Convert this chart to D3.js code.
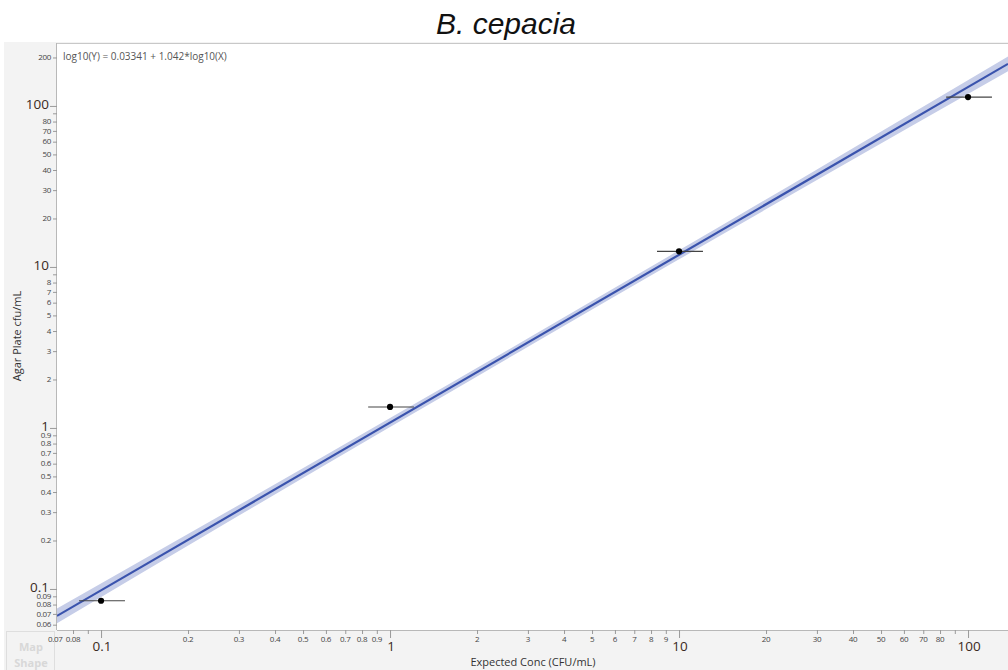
<!DOCTYPE html>
<html>
<head>
<meta charset="utf-8">
<script src="https://cdn.jsdelivr.net/npm/d3@7"></script>
<style>
  html, body { margin: 0; padding: 0; background: #ffffff; }
  svg { display: block; font-family: "Open Sans", "Noto Sans", "DejaVu Sans", sans-serif; }
</style>
</head>
<body>
<svg id="chart" width="1008" height="670"></svg>
<script>
// Observed points: expected concentration vs. agar plate count
const expected = [0.1, 1, 10, 100];
const agarCount = [0.0845, 1.35, 12.5, 113.5];
const expectedLow = [0.0839, 0.84, 8.39, 84.0];
const expectedHigh = [0.121, 1.21, 12.1, 121];

// Fitted power-law model: log10(Y) = a + b*log10(X)
const fitIntercept = 0.03341;
const fitSlope = 1.042;
const fitLabel = "log10(Y) = 0.03341 + 1.042*log10(X)";

// Confidence band half-width (log10 units) along X
const bandX = [0.0704, 0.3, 1, 3.16, 10, 30, 137.5];
const bandHalf = [0.046, 0.033, 0.028, 0.026, 0.028, 0.033, 0.046];

// Axis tick values and which ones carry labels
const xMajor = [0.1, 1, 10, 100];
const xMinor = [0.08, 0.09, 0.2, 0.3, 0.4, 0.5, 0.6, 0.7, 0.8, 0.9,
                2, 3, 4, 5, 6, 7, 8, 9, 20, 30, 40, 50, 60, 70, 80, 90];
const xMinorLabels = [0.07, 0.08, 0.2, 0.3, 0.4, 0.5, 0.6, 0.7, 0.8, 0.9,
                      2, 3, 4, 5, 6, 7, 8, 9, 20, 30, 40, 50, 60, 70, 80];
const yMajor = [0.1, 1, 10, 100];
const yMinor = [0.06, 0.07, 0.08, 0.09, 0.2, 0.3, 0.4, 0.5, 0.6, 0.7, 0.8, 0.9,
                2, 3, 4, 5, 6, 7, 8, 9, 20, 30, 40, 50, 60, 70, 80, 90, 200];
const yMinorLabels = [0.06, 0.07, 0.08, 0.09, 0.2, 0.3, 0.4, 0.5, 0.6, 0.7, 0.8, 0.9,
                      2, 3, 4, 5, 6, 7, 8, 20, 30, 40, 50, 60, 70, 80, 200];

const svg = d3.select("#chart");
const W = 1008, H = 670;
const plot = { left: 57, top: 43, right: 1008, bottom: 630 };

const x = d3.scaleLog().domain([0.0704, 137.5]).range([plot.left, plot.right]);
const y = d3.scaleLog().domain([0.0556, 246]).range([plot.bottom, plot.top]);

const fmt = v => String(+v.toPrecision(3));

// Panel backgrounds
svg.append("rect").attr("x", 0).attr("y", 0).attr("width", W).attr("height", H).attr("fill", "#ffffff");
svg.append("rect").attr("x", 4).attr("y", plot.top - 1).attr("width", W - 4).attr("height", H - plot.top + 1)
  .attr("fill", "#f3f3f3");
svg.append("rect").attr("x", plot.left).attr("y", plot.top)
  .attr("width", plot.right - plot.left).attr("height", plot.bottom - plot.top).attr("fill", "#ffffff");

// Inactive "Map Shape" drop zone (sits beneath the axis labels)
svg.append("rect").attr("x", 6.5).attr("y", 631.5).attr("width", 48).attr("height", 40)
  .attr("fill", "#f3f3f3").attr("stroke", "#dedede");
svg.append("text").attr("x", 31).attr("y", 651).attr("text-anchor", "middle")
  .attr("font-size", 11).attr("font-weight", "bold").attr("fill", "#d8d8d8").text("Map");
svg.append("text").attr("x", 31).attr("y", 667).attr("text-anchor", "middle")
  .attr("font-size", 11).attr("font-weight", "bold").attr("fill", "#d8d8d8").text("Shape");

// Title
svg.append("text").attr("x", 506).attr("y", 34).attr("text-anchor", "middle")
  .attr("font-family", "'Liberation Sans', Arial, sans-serif")
  .attr("font-style", "italic").attr("font-size", 30).attr("fill", "#111")
  .text("B. cepacia");

svg.append("clipPath").attr("id", "plotclip").append("rect")
  .attr("x", plot.left).attr("y", plot.top)
  .attr("width", plot.right - plot.left).attr("height", plot.bottom - plot.top);

const g = svg.append("g").attr("clip-path", "url(#plotclip)");

// Confidence band around the fit
const fitLog = v => fitIntercept + fitSlope * Math.log10(v);
const bandData = bandX.map((v, i) => ({ x: v, lo: Math.pow(10, fitLog(v) - bandHalf[i]), hi: Math.pow(10, fitLog(v) + bandHalf[i]) }));
g.append("path").datum(bandData)
  .attr("fill", "#c6cde8")
  .attr("d", d3.area().curve(d3.curveMonotoneX)
    .x(d => x(d.x)).y0(d => y(d.lo)).y1(d => y(d.hi)));

// Fitted line
const lineEnds = x.domain();
g.append("path").datum(lineEnds)
  .attr("fill", "none").attr("stroke", "#3a53ad").attr("stroke-width", 2.2)
  .attr("d", d3.line().x(d => x(d)).y(d => y(Math.pow(10, fitLog(d)))));

// Horizontal error bars and points
expected.forEach((v, i) => {
  g.append("line")
    .attr("x1", x(expectedLow[i])).attr("x2", x(expectedHigh[i]))
    .attr("y1", y(agarCount[i])).attr("y2", y(agarCount[i]))
    .attr("stroke", "#444").attr("stroke-width", 1.1);
  g.append("circle").attr("cx", x(v)).attr("cy", y(agarCount[i])).attr("r", 3.1).attr("fill", "#000");
});

// Plot frame (top, left and bottom edges)
svg.append("line").attr("x1", plot.left).attr("x2", plot.right).attr("y1", plot.top + 0.5).attr("y2", plot.top + 0.5)
  .attr("stroke", "#c8c8c8");
svg.append("line").attr("x1", plot.left - 0.5).attr("x2", plot.left - 0.5).attr("y1", plot.top).attr("y2", plot.bottom)
  .attr("stroke", "#b8b8b8");
svg.append("line").attr("x1", plot.left).attr("x2", plot.right).attr("y1", plot.bottom + 0.5).attr("y2", plot.bottom + 0.5)
  .attr("stroke", "#b8b8b8");

// Fit equation
svg.append("text").attr("x", 63).attr("y", 60).attr("font-size", 10).attr("fill", "#555").text(fitLabel);

// X axis
const xa = svg.append("g").attr("transform", `translate(0,${plot.bottom})`);
xa.append("g").call(d3.axisBottom(x).tickValues(xMinor).tickSize(4).tickFormat(""))
  .call(s => s.select(".domain").remove())
  .call(s => s.selectAll("line").attr("stroke", "#999"));
xa.append("g").call(d3.axisBottom(x).tickValues(xMajor).tickSize(8).tickFormat(""))
  .call(s => s.select(".domain").remove())
  .call(s => s.selectAll("line").attr("stroke", "#999"));
xa.selectAll(".xminlab").data(xMinorLabels).enter().append("text")
  .attr("x", d => d === 0.07 ? x(d) - 1 : x(d)).attr("y", 12).attr("text-anchor", "middle")
  .attr("font-size", 8).attr("letter-spacing", -0.3).attr("fill", "#444").text(fmt);
xa.selectAll(".xmajlab").data(xMajor).enter().append("text")
  .attr("x", d => x(d) + 1).attr("y", 21).attr("text-anchor", "middle")
  .attr("font-size", 13.5).attr("fill", "#3a2a22").text(fmt);

// Y axis
const ya = svg.append("g").attr("transform", `translate(${plot.left},0)`);
ya.append("g").call(d3.axisLeft(y).tickValues(yMinor).tickSize(4).tickFormat(""))
  .call(s => s.select(".domain").remove())
  .call(s => s.selectAll("line").attr("stroke", "#999"));
ya.append("g").call(d3.axisLeft(y).tickValues(yMajor).tickSize(7).tickFormat(""))
  .call(s => s.select(".domain").remove())
  .call(s => s.selectAll("line").attr("stroke", "#999"));
ya.selectAll(".yminlab").data(yMinorLabels).enter().append("text")
  .attr("x", -6).attr("y", d => y(d)).attr("dy", "0.35em").attr("text-anchor", "end")
  .attr("font-size", 8).attr("letter-spacing", -0.3).attr("fill", "#444").text(fmt);
ya.selectAll(".ymajlab").data(yMajor).enter().append("text")
  .attr("x", -8).attr("y", d => y(d)).attr("dy", "0.2em").attr("text-anchor", "end")
  .attr("font-size", 13.5).attr("fill", "#3a2a22").text(fmt);

// Axis titles
svg.append("text").attr("x", 533).attr("y", 666).attr("text-anchor", "middle")
  .attr("font-size", 11).attr("fill", "#333").text("Expected Conc (CFU/mL)");
svg.append("text").attr("transform", "translate(21,336) rotate(-90)").attr("text-anchor", "middle")
  .attr("font-size", 11).attr("fill", "#333").text("Agar Plate cfu/mL");
</script>
</body>
</html>
